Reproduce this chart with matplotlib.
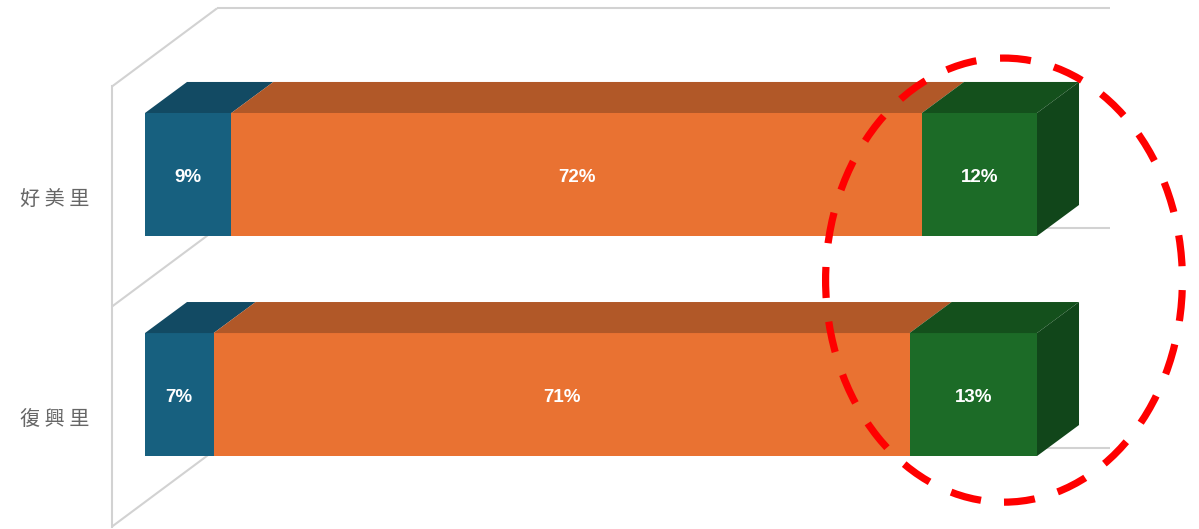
import matplotlib
matplotlib.use('Agg')
import matplotlib.pyplot as plt
from matplotlib.patches import Polygon, Ellipse

# ---------------- data ----------------
categories = ['好美里', '復興里']
seg_blue = [9, 7]
seg_orange = [72, 71]
seg_green = [12, 13]

front_colors = ['#17607F', '#E97232', '#1C6B27']
top_colors = ['#124A63', '#B15828', '#14501C']
side_color = '#11461A'
grid_color = '#D2D2D2'

# ---------------- layout ----------------
fig = plt.figure(figsize=(11.99, 5.29), dpi=100)
ax = fig.add_axes([0, 0, 1, 1])
ax.set_xlim(-16.256, 118.161)
ax.set_ylim(-0.611, 1.793)
ax.set_axis_off()

ypos = [1, 0]                 # category positions
bar_h = 0.559
bdx, bdy = 4.71, 0.141        # bar depth offset
wx_front, wdx, wdy = -3.70, 11.77, 0.355   # wall geometry
wall_right = 108.2
levels = [-0.6, 0.4, 1.4]

# walls / gridlines
for yf in levels:
    ax.plot([wx_front, wx_front + wdx], [yf, yf + wdy], color=grid_color, lw=1.5,
            zorder=1, solid_capstyle='butt')
    ax.plot([wx_front + wdx, wall_right], [yf + wdy, yf + wdy], color=grid_color,
            lw=1.5, zorder=1, solid_capstyle='butt')
ax.plot([wx_front, wx_front], [levels[0], levels[-1]], color=grid_color, lw=1.5,
        zorder=1)

# bars
for i, cat in enumerate(categories):
    vals = [seg_blue[i], seg_orange[i], seg_green[i]]
    tot = sum(vals)
    pct = [v / tot * 100 for v in vals]
    y = ypos[i]
    left = 0
    for j, (v, p) in enumerate(zip(vals, pct)):
        ax.barh(y, p, left=left, height=bar_h, color=front_colors[j], zorder=3,
                linewidth=0)
        top = y + bar_h / 2
        ax.add_patch(Polygon([(left, top), (left + bdx, top + bdy),
                              (left + p + bdx, top + bdy), (left + p, top)],
                             closed=True, facecolor=top_colors[j], lw=0, zorder=3))
        ax.text(left + p / 2, y - 0.012, f'{v}%', color='white', fontsize=13.5,
                fontweight='bold', family=['Liberation Sans', 'DejaVu Sans'],
                ha='center', va='center', zorder=5)
        left += p
    bot = y - bar_h / 2
    top = y + bar_h / 2
    ax.add_patch(Polygon([(left, bot), (left, top), (left + bdx, top + bdy),
                          (left + bdx, bot + bdy)], closed=True,
                         facecolor=side_color, lw=0, zorder=3))

    # category label (aligned to front wall band)
    ax.text(-10.09, y - 0.115, ' '.join(cat), color='#666666', fontsize=14.5,
            family=['Noto Sans CJK TC', 'DejaVu Sans'], ha='center', va='center')

# red dashed ellipse highlight
ax.add_patch(Ellipse((96.3, 0.52), 40.0, 2.018, fill=False, edgecolor='#FF0000',
                     lw=5.2, linestyle=(0, (4.3, 3.3)), zorder=6))

fig.savefig('out.png', dpi=100)
